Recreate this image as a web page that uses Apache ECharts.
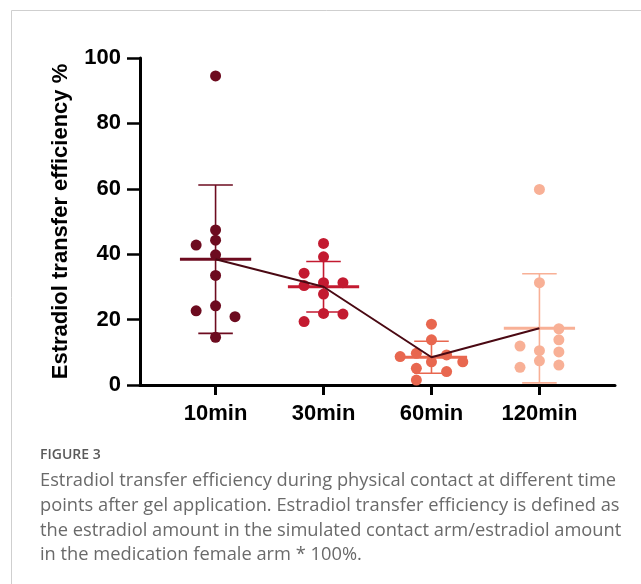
<!DOCTYPE html>
<html>
<head>
<meta charset="utf-8">
<script src="https://cdn.jsdelivr.net/npm/echarts@6/dist/echarts.min.js"></script>
<style>
  html, body { margin: 0; padding: 0; background: #fff; }
  #chart { width: 641px; height: 584px; }
</style>
</head>
<body>
<div id="chart"></div>
<script>
// groups along the x axis
const categories = ['10min', '30min', '60min', '120min']
const groupColors = ['#6d0b1f', '#c31a30', '#e8674f', '#f8b096']
const meanLineColor = '#4a0913'

// individual transfer efficiencies (%) per group
const values10 = [94.5, 47.4, 44.3, 42.8, 39.8, 33.5, 24.2, 22.7, 20.9, 14.6]
const values30 = [43.3, 39.2, 34.2, 31.3, 31.3, 30.4, 27.8, 21.9, 21.7, 19.4]
const values60 = [18.6, 13.8, 9.7, 9.2, 8.7, 7.1, 7.1, 5.1, 4.1, 1.5]
const values120 = [59.8, 31.3, 17.2, 13.8, 11.9, 10.5, 10.1, 7.4, 6.1, 5.4]

// horizontal scatter of the dots (in category widths), as in the dot plot
const jitter10 = [0, 0, 0, -0.18, 0, 0, 0, -0.18, 0.18, 0]
const jitter30 = [0, 0, -0.18, 0, 0.18, -0.18, 0, 0, 0.18, -0.18]
const jitter60 = [0, 0, -0.14, 0.14, -0.29, 0, 0.29, -0.14, 0.14, -0.14]
const jitter120 = [0, 0, 0.18, 0.18, -0.18, 0, 0.18, 0, 0.18, -0.18]

const groups = [values10, values30, values60, values120]
const jitters = [jitter10, jitter30, jitter60, jitter120]

function mean(a) {
  return a.reduce((s, v) => s + v, 0) / a.length
}
function sd(a) {
  const m = mean(a)
  return Math.sqrt(a.reduce((s, v) => s + (v - m) * (v - m), 0) / (a.length - 1))
}

// [group index, mean, mean - SD, mean + SD]
const stats = groups.map((g, i) => {
  const m = mean(g)
  const s = sd(g)
  return [i, m, Math.max(0, m - s), m + s]
})

const chart = echarts.init(document.getElementById('chart'), null, { renderer: 'canvas' })

const scatterSeries = groups.map((g, i) => ({
  type: 'scatter',
  name: categories[i],
  data: g.map((v, k) => [i + jitters[i][k], v]),
  symbol: 'circle',
  symbolSize: 11,
  itemStyle: { color: groupColors[i], opacity: 1 },
  z: 3,
  silent: true,
}))

const errorSeries = {
  type: 'custom',
  data: stats,
  z: 2,
  silent: true,
  renderItem: (params, api) => {
    const i = api.value(0)
    const c = groupColors[i]
    const top = api.coord([i, api.value(3)])
    const bot = api.coord([i, api.value(2)])
    const capL = api.coord([i - 0.16, 0])[0]
    const capR = api.coord([i + 0.16, 0])[0]
    const style = { stroke: c, lineWidth: 1.6 }
    return {
      type: 'group',
      children: [
        { type: 'line', shape: { x1: top[0], y1: top[1], x2: bot[0], y2: bot[1] }, style },
        { type: 'line', shape: { x1: capL, y1: top[1], x2: capR, y2: top[1] }, style },
        { type: 'line', shape: { x1: capL, y1: bot[1], x2: capR, y2: bot[1] }, style },
      ],
    }
  },
}

const meanBarSeries = {
  type: 'custom',
  data: stats,
  z: 4,
  silent: true,
  renderItem: (params, api) => {
    const i = api.value(0)
    const l = api.coord([i - 0.33, api.value(1)])
    const r = api.coord([i + 0.33, api.value(1)])
    return {
      type: 'line',
      shape: { x1: l[0], y1: l[1], x2: r[0], y2: r[1] },
      style: { stroke: groupColors[i], lineWidth: 3 },
    }
  },
}

const meanLine = {
  type: 'line',
  data: stats.map((s) => [s[0], s[1]]),
  symbol: 'none',
  lineStyle: { color: meanLineColor, width: 2 },
  z: 5,
  silent: true,
}

const axisFont = '"Liberation Sans", Arial, sans-serif'
const captionFont = '"Open Sans", "DejaVu Sans", sans-serif'
const captionLines = [
  'Estradiol transfer efficiency during physical contact at different time',
  'points after gel application. Estradiol transfer efficiency is defined as',
  'the estradiol amount in the simulated contact arm/estradiol amount',
  'in the medication female arm * 100%.',
]

chart.setOption({
  animation: false,
  backgroundColor: '#fff',
  grid: { left: 140, right: 26, top: 58, bottom: 199 },
  xAxis: {
    type: 'value',
    min: -0.7,
    max: 3.7,
    splitLine: { show: false },
    axisLine: { show: true, onZero: false, lineStyle: { color: '#000', width: 3 } },
    axisTick: {
      show: true,
      customValues: [0, 1, 2, 3],
      length: 10,
      lineStyle: { color: '#000', width: 3 },
    },
    axisLabel: {
      customValues: [0, 1, 2, 3],
      formatter: (v) => categories[Math.round(v)] ?? '',
      color: '#000',
      fontFamily: axisFont,
      fontWeight: 'bold',
      fontSize: 22,
      margin: 18,
    },
  },
  yAxis: {
    type: 'value',
    min: 0,
    max: 100,
    interval: 20,
    name: 'Estradiol transfer efficiency %',
    nameLocation: 'middle',
    nameGap: 68,
    nameTextStyle: {
      color: '#000',
      fontFamily: axisFont,
      fontWeight: 'bold',
      fontSize: 22,
    },
    splitLine: { show: false },
    axisLine: { show: true, onZero: false, lineStyle: { color: '#000', width: 3 } },
    axisTick: { show: true, length: 13, lineStyle: { color: '#000', width: 2.5 } },
    axisLabel: {
      color: '#000',
      fontFamily: axisFont,
      fontWeight: 'bold',
      fontSize: 22,
      margin: 19,
    },
  },
  graphic: [
    {
      type: 'polyline',
      shape: { points: [[11.5, 584], [11.5, 10.5], [641, 10.5]] },
      style: { stroke: '#cfcfcf', lineWidth: 1, fill: null },
      silent: true,
    },
    {
      type: 'text',
      left: 40,
      top: 448,
      style: { text: 'FIGURE 3', fill: '#5a5a5a', font: '600 14px ' + captionFont },
    },
    ...captionLines.map((t, k) => ({
      type: 'text',
      left: 40,
      top: 472 + k * 24.7,
      style: { text: t, fill: '#6a6a6a', font: '18.3px ' + captionFont },
    })),
  ],
  series: [errorSeries, ...scatterSeries, meanBarSeries, meanLine],
})
</script>
</body>
</html>
